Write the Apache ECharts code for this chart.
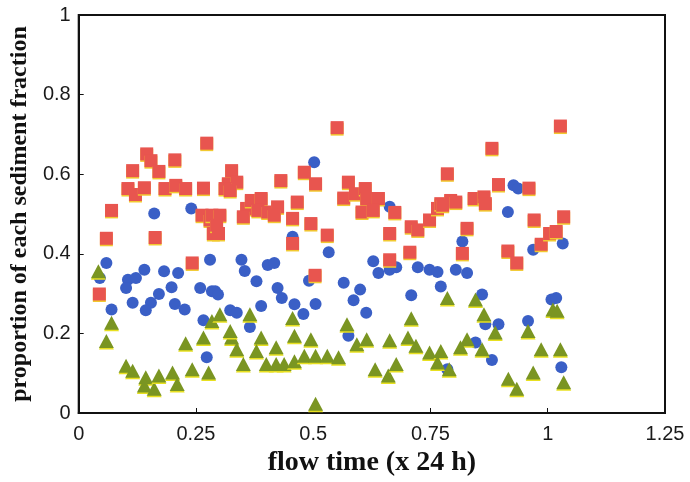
<!DOCTYPE html>
<html><head><meta charset="utf-8">
<script src="https://cdn.jsdelivr.net/npm/echarts@6/dist/echarts.min.js"></script>
<style>html,body{margin:0;padding:0;background:#fff}#c{width:690px;height:482px}</style>
</head><body><div id="c"></div>
<script>
const xTicks = [0, 0.25, 0.5, 0.75, 1, 1.25];
const yTicks = [0, 0.2, 0.4, 0.6, 0.8, 1];

const redX = [0.044,0.059,0.070,0.105,0.121,0.115,0.140,0.145,0.154,0.171,0.163,0.184,0.205,0.207,0.228,0.242,0.266,0.263,0.273,0.280,0.287,0.284,0.301,0.294,0.298,0.326,0.319,0.337,0.312,0.323,0.358,0.351,0.368,0.389,0.382,0.403,0.424,0.417,0.431,0.466,0.456,0.456,0.481,0.505,0.495,0.530,0.551,0.575,0.565,0.590,0.611,0.614,0.639,0.604,0.628,0.674,0.663,0.663,0.709,0.723,0.706,0.748,0.765,0.772,0.793,0.786,0.776,0.804,0.828,0.818,0.843,0.864,0.867,0.881,0.895,0.915,0.934,0.960,0.971,0.986,1.004,1.018,1.034,1.027,0.504];
const redY = [0.299,0.439,0.509,0.564,0.549,0.609,0.566,0.651,0.634,0.607,0.441,0.564,0.636,0.572,0.564,0.377,0.565,0.497,0.678,0.485,0.451,0.497,0.497,0.472,0.451,0.609,0.576,0.580,0.564,0.559,0.514,0.493,0.534,0.539,0.509,0.505,0.518,0.497,0.584,0.530,0.489,0.426,0.605,0.576,0.476,0.447,0.717,0.580,0.540,0.551,0.564,0.539,0.539,0.505,0.509,0.504,0.451,0.385,0.468,0.460,0.404,0.485,0.514,0.526,0.534,0.601,0.522,0.530,0.464,0.401,0.539,0.543,0.526,0.665,0.574,0.407,0.377,0.565,0.485,0.424,0.451,0.456,0.493,0.721,0.346];

const blueX = [0.059,0.045,0.105,0.122,0.101,0.140,0.182,0.212,0.198,0.171,0.115,0.154,0.143,0.205,0.226,0.259,0.284,0.280,0.070,0.266,0.273,0.347,0.354,0.403,0.417,0.379,0.424,0.433,0.291,0.297,0.389,0.460,0.479,0.505,0.491,0.323,0.337,0.365,0.628,0.639,0.663,0.677,0.723,0.748,0.765,0.565,0.600,0.586,0.709,0.772,0.613,0.575,0.786,0.663,0.533,0.502,0.804,0.828,0.860,0.867,0.895,0.846,0.881,0.958,1.008,1.018,1.029,0.927,0.937,0.915,0.818,0.969,1.032,0.161,0.240,0.456];
const blueY = [0.377,0.339,0.335,0.339,0.314,0.360,0.356,0.352,0.316,0.299,0.277,0.277,0.258,0.274,0.260,0.314,0.306,0.385,0.260,0.233,0.140,0.385,0.357,0.372,0.377,0.331,0.314,0.289,0.306,0.298,0.269,0.273,0.249,0.274,0.332,0.258,0.252,0.216,0.381,0.352,0.360,0.366,0.366,0.360,0.354,0.327,0.310,0.283,0.296,0.318,0.252,0.194,0.110,0.518,0.404,0.630,0.360,0.352,0.298,0.223,0.223,0.177,0.133,0.231,0.285,0.289,0.115,0.572,0.564,0.505,0.431,0.410,0.426,0.501,0.514,0.443];

const greenX = [0.042,0.070,0.059,0.101,0.115,0.143,0.140,0.161,0.171,0.200,0.210,0.228,0.242,0.266,0.277,0.284,0.301,0.365,0.456,0.326,0.323,0.389,0.379,0.337,0.421,0.460,0.495,0.351,0.400,0.421,0.438,0.460,0.481,0.505,0.530,0.505,0.786,0.572,0.709,0.593,0.614,0.663,0.702,0.719,0.748,0.772,0.554,0.632,0.660,0.677,0.765,0.790,0.846,0.864,0.888,0.828,0.814,0.860,0.958,1.011,0.986,1.027,0.969,0.916,0.934,1.034,1.020];
const greenY = [0.356,0.227,0.181,0.119,0.106,0.090,0.069,0.061,0.094,0.102,0.073,0.175,0.110,0.190,0.102,0.231,0.248,0.248,0.239,0.190,0.206,0.190,0.156,0.160,0.165,0.194,0.185,0.123,0.123,0.123,0.123,0.130,0.144,0.144,0.144,0.023,0.289,0.223,0.238,0.173,0.185,0.183,0.190,0.169,0.152,0.156,0.140,0.110,0.094,0.123,0.127,0.110,0.285,0.248,0.202,0.185,0.165,0.160,0.206,0.260,0.160,0.160,0.102,0.086,0.061,0.077,0.257];

function pts(xs, ys){ return xs.map((x,i)=>[x, ys[i]]); }

const chart = echarts.init(document.getElementById('c'), null, {renderer:'canvas'});
const tickLbl = {color:'#1a1a1a', fontFamily:'Liberation Sans, Arial, sans-serif', fontSize:20};
chart.setOption({
  animation:false,
  backgroundColor:'#fff',
  grid:{left:72, right:25, top:15, bottom:66, show:true, borderColor:'#111', borderWidth:2, backgroundColor:'transparent'},
  xAxis:{type:'value', min:0, max:1.25, interval:0.25,
    name:'flow time (x 24 h)', nameLocation:'middle', nameGap:36,
    nameTextStyle:{fontFamily:'Liberation Serif, Times New Roman, serif', fontWeight:'bold', fontSize:28, color:'#111'},
    axisLine:{show:true, lineStyle:{color:'#111', width:2}},
    axisTick:{show:true, inside:true, length:5, lineStyle:{color:'#111'}},
    splitLine:{show:false},
    axisLabel:Object.assign({margin:11, formatter:v=>String(v)}, tickLbl)},
  yAxis:{type:'value', min:0, max:1, interval:0.2,
    name:'proportion of each sediment fraction', nameLocation:'middle', nameGap:45,
    nameTextStyle:{fontFamily:'Liberation Serif, Times New Roman, serif', fontWeight:'bold', fontSize:24, color:'#111'},
    axisLine:{show:true, lineStyle:{color:'#111', width:2}},
    axisTick:{show:true, inside:true, length:5, lineStyle:{color:'#111'}},
    splitLine:{show:false},
    axisLabel:Object.assign({margin:8, formatter:v=>String(+v.toFixed(1))}, tickLbl)},
  series:[
    {type:'scatter', symbol:'circle', symbolSize:12, data:pts(blueX, blueY),
      itemStyle:{color:'#3a5fc6', opacity:1}},
    {type:'scatter', symbol:'rect', symbolSize:13, data:pts(redX, redY),
      itemStyle:{color:'#e8554f', opacity:1, shadowColor:'#f2c930', shadowOffsetY:1.5, shadowBlur:0}},
    {type:'scatter', symbol:'triangle', symbolSize:[15,14], data:pts(greenX, greenY),
      itemStyle:{color:'#7a9522', opacity:1, shadowColor:'#e8e020', shadowOffsetY:1.5, shadowBlur:0}}
  ]
});
</script></body></html>
